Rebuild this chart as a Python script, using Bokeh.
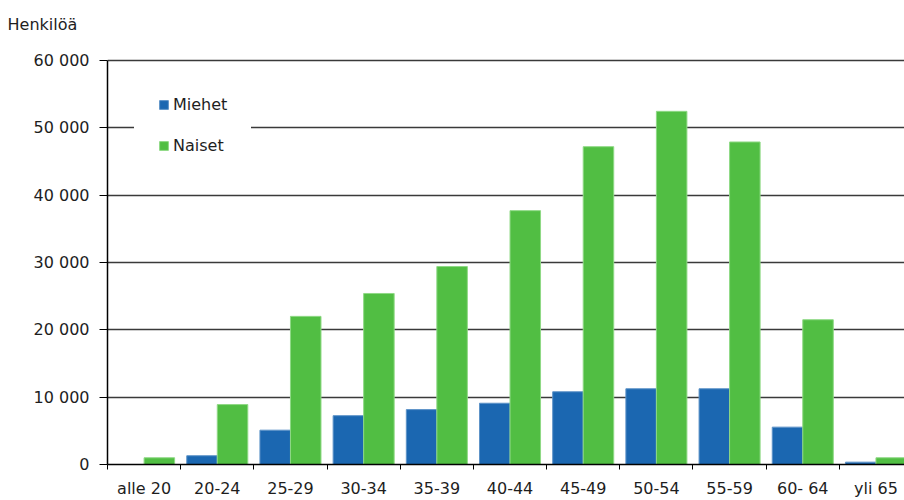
import numpy as np
from bokeh.plotting import figure
from bokeh.models import FixedTicker, Range1d, Title
from bokeh.embed import file_html
from bokeh.resources import INLINE

categories = ["alle 20", "20-24", "25-29", "30-34", "35-39", "40-44",
              "45-49", "50-54", "55-59", "60- 64", "yli 65"]
miehet = [0, 1300, 5100, 7250, 8150, 9100, 10800, 11250, 11250, 5550, 350]
naiset = [1000, 8900, 22000, 25400, 29400, 37700, 47200, 52450, 47900, 21500, 1000]
y_ticks = [0, 10000, 20000, 30000, 40000, 50000, 60000]
y_tick_labels = ["0", "10 000", "20 000", "30 000", "40 000", "50 000", "60 000"]
y_title = "Henkilöä"

FONT = "DejaVu Sans"
TXT = "#1e1e1e"

Y_MAX = 60000
# frame top sits 20px above the 60 000 line (404px for 0..60 000)
y_end = Y_MAX * (404 + 20) / 404

p = figure(width=904, height=500, output_backend="svg", toolbar_location=None,
           x_range=Range1d(0, 10.89), y_range=Range1d(0, y_end),
           min_border_left=107, min_border_right=0, min_border_top=40,
           min_border_bottom=36)

centers = np.arange(len(categories)) + 0.5
bw = 0.417
p.vbar(x=centers - bw / 2, top=miehet, width=bw, fill_color="#1b67b1",
       line_color="#5e93c8", line_width=1, legend_label="Miehet")
p.vbar(x=centers + bw / 2, top=naiset, width=bw, fill_color="#51be43",
       line_color="#8fd985", line_width=1, legend_label="Naiset")

# x axis
xt = FixedTicker(ticks=list(centers), minor_ticks=list(range(len(categories) + 1)))
p.xaxis.ticker = xt
p.xaxis.major_label_overrides = {float(c): lab for c, lab in zip(centers, categories)}
p.xaxis.major_tick_line_color = None
p.xaxis.major_tick_out = 0
p.xaxis.major_tick_in = 0
p.xaxis.minor_tick_out = 5
p.xaxis.minor_tick_in = 0
p.xaxis.minor_tick_line_color = "#000000"
p.xaxis.axis_line_color = "#000000"
p.xaxis.axis_line_width = 1.5
p.xaxis.major_label_standoff = 9
p.xaxis.major_label_text_font = FONT
p.xaxis.major_label_text_font_size = "16px"
p.xaxis.major_label_text_color = TXT
p.xgrid.grid_line_color = None

# y axis
p.yaxis.ticker = FixedTicker(ticks=y_ticks, minor_ticks=[])
p.yaxis.bounds = (0, Y_MAX)
p.yaxis.major_label_overrides = {t: lab for t, lab in zip(y_ticks, y_tick_labels)}
p.yaxis.major_tick_out = 8
p.yaxis.major_tick_in = 0
p.yaxis.major_tick_line_color = "#000000"
p.yaxis.axis_line_color = "#000000"
p.yaxis.axis_line_width = 1.5
p.yaxis.major_label_standoff = 10
p.yaxis.major_label_text_font = FONT
p.yaxis.major_label_text_font_size = "16px"
p.yaxis.major_label_text_color = TXT
p.ygrid.grid_line_color = "#3a3a3a"
p.ygrid.grid_line_width = 1.5

p.outline_line_color = None
p.background_fill_color = "white"
p.border_fill_color = "white"

# axis title above the frame
t = Title(text=y_title, align="left", offset=-100, standoff=14,
          text_font=FONT, text_font_size="16px", text_font_style="normal",
          text_color=TXT)
p.add_layout(t, "above")

# legend
lg = p.legend[0]
lg.location = (27, 285)
lg.padding = 23
lg.margin = 0
lg.spacing = 21
lg.glyph_width = 11
lg.glyph_height = 11
lg.label_height = 20
lg.label_standoff = 4
lg.border_line_color = "white"
lg.border_line_alpha = 1
lg.background_fill_color = "white"
lg.background_fill_alpha = 1
lg.label_text_font = FONT
lg.label_text_font_size = "16px"
lg.label_text_color = TXT

open("out.html", "w").write(file_html(p, INLINE))
